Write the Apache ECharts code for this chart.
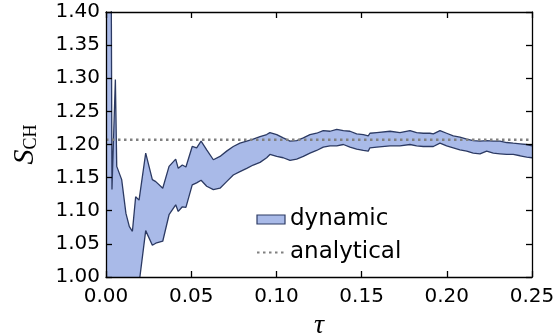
<!DOCTYPE html>
<html>
<head>
<meta charset="utf-8">
<script src="https://cdn.jsdelivr.net/npm/echarts@6/dist/echarts.min.js"></script>
<style>html,body{margin:0;padding:0;background:#fff;}#c{width:557px;height:333px;}</style>
</head>
<body>
<div id="c"></div>
<script>
// tau positions
var tau = [0.0000,0.0012,0.0030,0.0035,0.0055,0.0063,0.0092,0.0117,0.0137,0.0155,0.0174,0.0194,0.0233,0.0272,0.0292,0.0333,0.0370,0.0409,0.0424,0.0448,0.0469,0.0506,0.0532,0.0558,0.0591,0.0630,0.0669,0.0708,0.0747,0.0786,0.0826,0.0864,0.0904,0.0943,0.0962,0.1002,0.1040,0.1080,0.1119,0.1158,0.1197,0.1236,0.1275,0.1315,0.1354,0.1393,0.1432,0.1471,0.1510,0.1539,0.1549,0.1589,0.1667,0.1725,0.1784,0.1823,0.1862,0.1901,0.1921,0.1960,0.1999,0.2038,0.2077,0.2117,0.2155,0.2195,0.2234,0.2273,0.2312,0.2351,0.2390,0.2430,0.2469,0.2500];
// upper edge of the dynamic band
var upper = [1.60,1.55,1.50,1.132,1.298,1.167,1.147,1.096,1.076,1.069,1.121,1.116,1.187,1.147,1.144,1.134,1.167,1.178,1.164,1.169,1.166,1.197,1.195,1.205,1.192,1.177,1.182,1.190,1.197,1.202,1.205,1.208,1.212,1.215,1.218,1.215,1.210,1.205,1.206,1.210,1.215,1.217,1.221,1.220,1.223,1.221,1.220,1.216,1.215,1.213,1.217,1.218,1.220,1.218,1.221,1.218,1.217,1.217,1.216,1.221,1.217,1.213,1.211,1.208,1.206,1.205,1.206,1.205,1.205,1.203,1.202,1.201,1.200,1.198];
// lower edge of the dynamic band
var lower = [0.90,0.90,0.90,0.90,0.90,0.90,0.90,0.90,0.90,0.90,0.93,0.99,1.070,1.048,1.051,1.054,1.094,1.109,1.099,1.106,1.105,1.139,1.142,1.146,1.137,1.132,1.134,1.144,1.154,1.159,1.164,1.169,1.173,1.180,1.185,1.182,1.180,1.176,1.178,1.182,1.187,1.191,1.196,1.198,1.198,1.200,1.196,1.193,1.191,1.190,1.195,1.196,1.198,1.198,1.200,1.198,1.197,1.197,1.197,1.202,1.198,1.195,1.192,1.190,1.187,1.186,1.190,1.187,1.186,1.185,1.185,1.183,1.181,1.180];
var analyticalValue = 1.207;
var xTicks = [0, 0.25, 0.05];
var yTicks = [1.00, 1.40, 0.05];

var fillColor = '#a9bae8';
var edgeColor = '#2c3a63';

var bandData = tau.map(function(t,i){return [t, upper[i], lower[i]];});
var upperData = tau.map(function(t,i){return [t, upper[i]];});
var lowerData = tau.map(function(t,i){return [t, lower[i]];});

var chart = echarts.init(document.getElementById('c'), null, {renderer:'canvas'});
var tickLabelStyle = {fontSize:20, color:'#000', fontFamily:'DejaVu Sans'};
function xAx(pos, show){
  return {type:'value', position:pos, min:xTicks[0], max:xTicks[1], interval:xTicks[2], z:10,
    axisLine:{show:true, onZero:false, lineStyle:{color:'#000', width:1.3}},
    axisTick:{show:true, inside:true, length:6, lineStyle:{color:'#000', width:1.3}},
    axisLabel:Object.assign({show:show, margin:10, formatter:function(v){return v.toFixed(2);}}, tickLabelStyle),
    splitLine:{show:false},
    name: show ? 'τ' : '', nameLocation:'middle', nameGap:24,
    nameTextStyle:{fontFamily:'Liberation Serif', fontStyle:'italic', fontSize:28, color:'#000'}
  };
}
function yAx(pos, show){
  return {type:'value', position:pos, min:yTicks[0], max:yTicks[1], interval:yTicks[2], z:10,
    axisLine:{show:true, onZero:false, lineStyle:{color:'#000', width:1.3}},
    axisTick:{show:true, inside:true, length:6, lineStyle:{color:'#000', width:1.3}},
    axisLabel:Object.assign({show:show, margin:6, formatter:function(v){return v.toFixed(2);}}, tickLabelStyle),
    splitLine:{show:false},
    name: show ? '{s|S}{sub|CH}' : '', nameLocation:'middle', nameGap:66, nameRotate:90,
    nameTextStyle:{color:'#000', rich:{
      s:{fontFamily:'Liberation Serif', fontStyle:'italic', fontSize:30, color:'#000'},
      sub:{fontFamily:'Liberation Serif', fontSize:18, color:'#000', padding:[12,0,0,0]}
    }}
  };
}
chart.setOption({
  animation:false,
  grid:{left:106, right:25, top:12, height:265, outerBoundsMode:'none', containLabel:false},
  xAxis:[xAx('bottom', true), xAx('top', false)],
  yAxis:[yAx('left', true), yAx('right', false)],
  legend:{
    orient:'vertical', left:251, top:203, itemGap:10, itemWidth:28, itemHeight:9,
    textStyle:{fontSize:23, color:'#000', fontFamily:'DejaVu Sans'},
    data:[
      {name:'dynamic', icon:'rect', itemStyle:{color:fillColor, borderColor:edgeColor, borderWidth:1.2}},
      {name:'analytical', itemStyle:{opacity:0}}
    ]
  },
  series:[
    {name:'dynamic', type:'custom', data:bandData, encode:{x:0, y:[1,2]}, z:2,
     itemStyle:{color:fillColor, borderColor:edgeColor, borderWidth:1.2},
     renderItem:function(params, api){
       if (params.dataIndex !== 0) return null;
       var pts = [], i;
       for (i = 0; i < tau.length; i++) pts.push(api.coord([tau[i], upper[i]]));
       for (i = tau.length - 1; i >= 0; i--) pts.push(api.coord([tau[i], lower[i]]));
       var cs = params.coordSys;
       return {type:'polygon', shape:{points:pts}, style:{fill:fillColor, stroke:null},
         clipPath:{type:'rect', shape:{x:cs.x, y:cs.y, width:cs.width, height:cs.height}}};
     }},
    {name:'upper', type:'line', data:upperData, symbol:'none', clip:true,
     lineStyle:{color:edgeColor, width:1.3}, z:3},
    {name:'lower', type:'line', data:lowerData, symbol:'none', clip:true,
     lineStyle:{color:edgeColor, width:1.3}, z:3},
    {name:'analytical', type:'line', data:[[xTicks[0], analyticalValue],[xTicks[1], analyticalValue]],
     symbol:'none', clip:true, itemStyle:{color:'#808080'},
     lineStyle:{color:'#808080', width:2.5, type:[2.5,3.5]}, z:5}
  ]
});
</script>
</body>
</html>
